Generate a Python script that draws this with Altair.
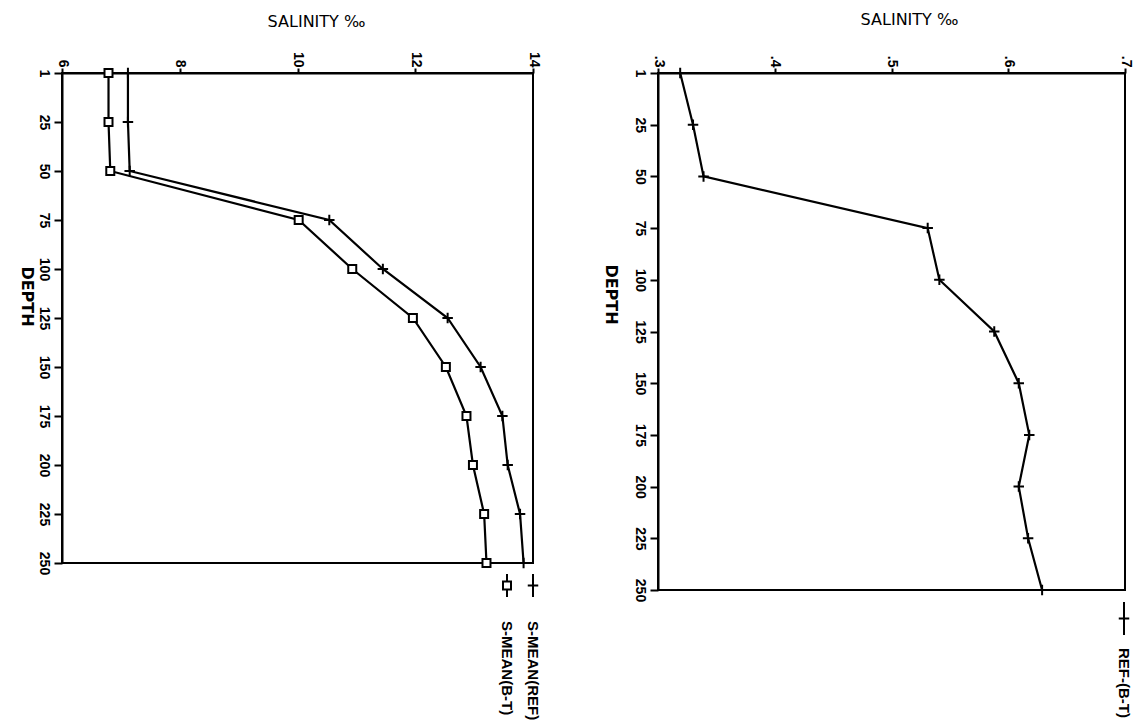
import altair as alt
import pandas as pd

# Depth levels (plotted as evenly spaced categories)
depths = [1, 25, 50, 75, 100, 125, 150, 175, 200, 225, 250]
depth_labels = [str(d) for d in depths]

# Mean salinity profiles
s_mean_ref = [7.12, 7.12, 7.15, 10.54, 11.45, 12.55, 13.11, 13.48, 13.57, 13.78, 13.84]
s_mean_bt = [6.79, 6.79, 6.82, 10.02, 10.93, 11.96, 12.52, 12.87, 12.98, 13.17, 13.21]

# Difference profile REF-(B-T)
ref_minus_bt = [0.319, 0.330, 0.339, 0.531, 0.541, 0.588, 0.609, 0.618, 0.609, 0.617, 0.629]

left_series = ["S-MEAN(REF)", "S-MEAN(B-T)"]
right_series = ["REF-(B-T)"]

left_ticks = [6, 8, 10, 12, 14]
right_ticks = [0.3, 0.4, 0.5, 0.6, 0.7]

PLUS = "M-1,0L1,0M0,-1L0,1"
LABEL_FONT = "Liberation Sans"
TITLE_FONT = "DejaVu Sans"

left_df = pd.DataFrame({
    "depth": depth_labels * 2,
    "salinity": s_mean_ref + s_mean_bt,
    "series": [left_series[0]] * len(depths) + [left_series[1]] * len(depths),
})
right_df = pd.DataFrame({
    "depth": depth_labels,
    "salinity": ref_minus_bt,
    "series": right_series * len(depths),
})


def salinity_axis(values, label_expr, title_x, title_pad):
    return alt.Axis(
        orient="top", values=values, labelExpr=label_expr, grid=False,
        labelAngle=90, labelAlign="right", labelBaseline="middle",
        labelFont=LABEL_FONT, labelFontWeight="bold", labelFontSize=14,
        labelPadding=1, tickSize=5, tickWidth=2, domainWidth=2,
        title="SALINITY ‰", titleFont=TITLE_FONT, titleFontSize=16,
        titleFontWeight="normal", titleAngle=0, titlePadding=title_pad,
        titleX=title_x,
    )


def depth_axis(title_x, title_y):
    return alt.Axis(
        orient="left", grid=False, labelAngle=90, labelAlign="center",
        labelBaseline="top", labelFont=LABEL_FONT, labelFontWeight="bold",
        labelFontSize=14, labelPadding=4, tickSize=8, tickWidth=2, domainWidth=2,
        title="DEPTH", titleFont=TITLE_FONT, titleFontSize=16, titleFontWeight="bold",
        titleAngle=90, titleBaseline="top", titleAlign="center",
        titleX=title_x, titleY=title_y,
    )


def legend_item(name, x, y0, y1, text_y, marker):
    item = alt.Chart(pd.DataFrame({"name": [name]}))
    seg = item.mark_rule(color="black", strokeWidth=2).encode(
        x=alt.value(x), y=alt.value(y0), y2=alt.value(y1))
    if marker == "plus":
        sym = item.mark_point(shape=PLUS, size=110, filled=False, stroke="black",
                              strokeWidth=2, opacity=1)
    else:
        sym = item.mark_point(shape="square", size=64, filled=True, fill="white",
                              stroke="black", strokeWidth=2, opacity=1)
    sym = sym.encode(x=alt.value(x), y=alt.value((y0 + y1) / 2))
    label = item.mark_text(angle=90, align="left", baseline="middle",
                           font=LABEL_FONT, fontWeight="bold", fontSize=15,
                           color="black").encode(
        x=alt.value(x), y=alt.value(text_y), text="name:N")
    return seg + sym + label


def profile_panel(df, series, domain, ticks, label_expr, width, height,
                  title_x, top_title_pad, depth_title_xy, legend_specs):
    base = alt.Chart(df).encode(
        x=alt.X("salinity:Q", scale=alt.Scale(domain=domain, nice=False, zero=False),
                axis=salinity_axis(ticks, label_expr, title_x, top_title_pad)),
        y=alt.Y("depth:O", sort=depth_labels, scale=alt.Scale(padding=0),
                axis=depth_axis(*depth_title_xy)),
    )
    lines = base.mark_line(color="black", strokeWidth=2.2).encode(detail="series:N")
    layers = [lines]
    for name, marker in series:
        sub = base.transform_filter(alt.datum.series == name)
        if marker == "plus":
            pts = sub.mark_point(shape=PLUS, size=110, filled=False, stroke="black",
                                 strokeWidth=2, opacity=1)
        else:
            pts = sub.mark_point(shape="square", size=64, filled=True, fill="white",
                                 stroke="black", strokeWidth=2, opacity=1)
        layers.append(pts)
    for spec in legend_specs:
        layers.append(legend_item(*spec))
    return alt.layer(*layers).properties(width=width, height=height)


left = profile_panel(
    left_df, [(left_series[0], "plus"), (left_series[1], "square")],
    [6, 14], left_ticks, "datum.label", 471, 490, 254, 22, (-28, 223),
    [(left_series[0], 471, 501, 524, 548, "plus"),
     (left_series[1], 445, 501, 524, 548, "square")],
)

right = profile_panel(
    right_df, [(right_series[0], "plus")],
    [0.3, 0.7], right_ticks, "replace(datum.label, '0.', '.')", 467, 517, 251, 28,
    (-40, 221),
    [(right_series[0], 466, 529, 562, 575, "plus")],
)

chart = alt.hconcat(left, right, spacing=57).properties(
    padding={"left": 17, "top": 10, "right": 0, "bottom": 0},
    background="white",
).configure_view(stroke="black", strokeWidth=2).configure_axis(
    domainColor="black", tickColor="black", labelColor="black", titleColor="black",
)

chart.save("out.html", embed_options={"renderer": "svg", "actions": False})
